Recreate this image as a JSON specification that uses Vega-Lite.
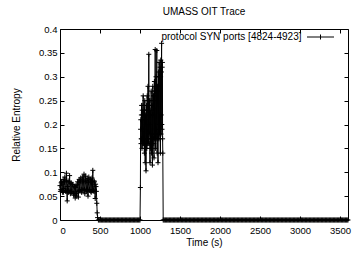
{
  "$schema": "https://vega.github.io/schema/vega-lite/v6.json",
  "width": 288,
  "height": 191,
  "autosize": {"type": "none"},
  "padding": {"left": 60, "top": 29, "right": 13, "bottom": 41},
  "background": "white",
  "title": {"text": "UMASS OIT Trace", "fontSize": 10, "fontWeight": "normal", "font": "Liberation Sans", "color": "black", "frame": "group", "anchor": "middle", "offset": 7},
  "config": {
    "font": "Liberation Sans",
    "view": {"stroke": "black", "strokeWidth": 1},
    "axis": {"domain": false, "grid": false, "ticks": true, "tickColor": "black", "tickSize": -4, "tickWidth": 1, "labelColor": "black", "labelFontSize": 9.5, "labelFont": "Liberation Sans", "titleColor": "black", "titleFont": "Liberation Sans", "titleFontSize": 10, "titleFontWeight": "normal"}
  },
  "data": {"values": [
    {"t":0,"v":0.072},{"t":5,"v":0.06},{"t":10,"v":0.064},{"t":15,"v":0.078},{"t":20,"v":0.08},{"t":25,"v":0.062},{"t":30,"v":0.058},{"t":35,"v":0.075},{"t":40,"v":0.085},{"t":45,"v":0.058},
    {"t":50,"v":0.066},{"t":55,"v":0.08},{"t":60,"v":0.09},{"t":65,"v":0.062},{"t":70,"v":0.06},{"t":75,"v":0.082},{"t":80,"v":0.098},{"t":85,"v":0.06},{"t":90,"v":0.04},{"t":95,"v":0.07},
    {"t":100,"v":0.082},{"t":105,"v":0.058},{"t":110,"v":0.062},{"t":115,"v":0.08},{"t":120,"v":0.093},{"t":125,"v":0.06},{"t":130,"v":0.055},{"t":135,"v":0.076},{"t":140,"v":0.078},{"t":145,"v":0.058},
    {"t":150,"v":0.06},{"t":155,"v":0.074},{"t":160,"v":0.075},{"t":165,"v":0.056},{"t":170,"v":0.052},{"t":175,"v":0.07},{"t":180,"v":0.07},{"t":185,"v":0.055},{"t":190,"v":0.046},{"t":195,"v":0.068},
    {"t":200,"v":0.072},{"t":205,"v":0.056},{"t":210,"v":0.05},{"t":215,"v":0.074},{"t":220,"v":0.08},{"t":225,"v":0.06},{"t":230,"v":0.048},{"t":235,"v":0.078},{"t":240,"v":0.085},{"t":245,"v":0.062},
    {"t":250,"v":0.06},{"t":255,"v":0.082},{"t":260,"v":0.088},{"t":265,"v":0.064},{"t":270,"v":0.058},{"t":275,"v":0.08},{"t":280,"v":0.09},{"t":285,"v":0.063},{"t":290,"v":0.062},{"t":295,"v":0.084},
    {"t":300,"v":0.096},{"t":305,"v":0.064},{"t":310,"v":0.055},{"t":315,"v":0.08},{"t":320,"v":0.092},{"t":325,"v":0.062},{"t":330,"v":0.06},{"t":335,"v":0.082},{"t":340,"v":0.087},{"t":345,"v":0.062},
    {"t":350,"v":0.05},{"t":355,"v":0.078},{"t":360,"v":0.09},{"t":365,"v":0.062},{"t":370,"v":0.064},{"t":375,"v":0.084},{"t":380,"v":0.085},{"t":385,"v":0.06},{"t":390,"v":0.058},{"t":395,"v":0.08},
    {"t":400,"v":0.088},{"t":405,"v":0.062},{"t":410,"v":0.104},{"t":415,"v":0.06},{"t":420,"v":0.062},{"t":425,"v":0.082},{"t":430,"v":0.08},{"t":435,"v":0.06},{"t":440,"v":0.045},{"t":445,"v":0.075},
    {"t":450,"v":0.07},{"t":455,"v":0.06},{"t":460,"v":0.035},{"t":465,"v":0.015},{"t":470,"v":0.005},{"t":480,"v":0},{"t":490,"v":0},
    {"t":500,"v":0},{"t":510,"v":0},{"t":520,"v":0},{"t":530,"v":0},{"t":540,"v":0},{"t":550,"v":0},{"t":560,"v":0},{"t":570,"v":0},{"t":580,"v":0},{"t":590,"v":0},
    {"t":600,"v":0},{"t":610,"v":0},{"t":620,"v":0},{"t":630,"v":0},{"t":640,"v":0},{"t":650,"v":0},{"t":660,"v":0},{"t":670,"v":0},{"t":680,"v":0},{"t":690,"v":0},
    {"t":700,"v":0},{"t":710,"v":0},{"t":720,"v":0},{"t":730,"v":0},{"t":740,"v":0},{"t":750,"v":0},{"t":760,"v":0},{"t":770,"v":0},{"t":780,"v":0},{"t":790,"v":0},
    {"t":800,"v":0},{"t":810,"v":0},{"t":820,"v":0},{"t":830,"v":0},{"t":840,"v":0},{"t":850,"v":0},{"t":860,"v":0},{"t":870,"v":0},{"t":880,"v":0},{"t":890,"v":0},
    {"t":900,"v":0},{"t":910,"v":0},{"t":920,"v":0},{"t":930,"v":0},{"t":940,"v":0},{"t":950,"v":0},{"t":960,"v":0},{"t":970,"v":0},{"t":980,"v":0},{"t":990,"v":0},
    {"t":1000,"v":0},{"t":1005,"v":0.068},{"t":1007.5,"v":0.19},{"t":1010,"v":0.21},{"t":1012.5,"v":0.16},{"t":1015,"v":0.17},{"t":1017.5,"v":0.22},{"t":1020,"v":0.24},{"t":1022.5,"v":0.17},{"t":1025,"v":0.15},
    {"t":1027.5,"v":0.23},{"t":1030,"v":0.22},{"t":1032.5,"v":0.16},{"t":1035,"v":0.19},{"t":1037.5,"v":0.24},{"t":1040,"v":0.26},{"t":1042.5,"v":0.17},{"t":1045,"v":0.16},{"t":1047.5,"v":0.22},{"t":1050,"v":0.23},
    {"t":1052.5,"v":0.16},{"t":1055,"v":0.14},{"t":1057.5,"v":0.23},{"t":1060,"v":0.25},{"t":1062.5,"v":0.16},{"t":1065,"v":0.12},{"t":1067.5,"v":0.22},{"t":1070,"v":0.21},{"t":1072.5,"v":0.15},{"t":1075,"v":0.103},
    {"t":1077.5,"v":0.2},{"t":1080,"v":0.24},{"t":1082.5,"v":0.16},{"t":1085,"v":0.15},{"t":1087.5,"v":0.23},{"t":1090,"v":0.26},{"t":1092.5,"v":0.16},{"t":1095,"v":0.17},{"t":1097.5,"v":0.24},{"t":1100,"v":0.28},
    {"t":1102.5,"v":0.17},{"t":1105,"v":0.16},{"t":1107.5,"v":0.25},{"t":1110,"v":0.347},{"t":1112.5,"v":0.2},{"t":1115,"v":0.18},{"t":1117.5,"v":0.24},{"t":1120,"v":0.25},{"t":1122.5,"v":0.16},{"t":1125,"v":0.12},
    {"t":1127.5,"v":0.23},{"t":1130,"v":0.22},{"t":1132.5,"v":0.15},{"t":1135,"v":0.16},{"t":1137.5,"v":0.25},{"t":1140,"v":0.27},{"t":1142.5,"v":0.17},{"t":1145,"v":0.14},{"t":1147.5,"v":0.24},{"t":1150,"v":0.24},
    {"t":1152.5,"v":0.16},{"t":1155,"v":0.115},{"t":1157.5,"v":0.22},{"t":1160,"v":0.28},{"t":1162.5,"v":0.17},{"t":1165,"v":0.17},{"t":1167.5,"v":0.26},{"t":1170,"v":0.26},{"t":1172.5,"v":0.16},{"t":1175,"v":0.13},
    {"t":1177.5,"v":0.25},{"t":1180,"v":0.29},{"t":1182.5,"v":0.17},{"t":1185,"v":0.18},{"t":1187.5,"v":0.27},{"t":1190,"v":0.357},{"t":1192.5,"v":0.18},{"t":1195,"v":0.15},{"t":1197.5,"v":0.27},{"t":1200,"v":0.3},
    {"t":1202.5,"v":0.17},{"t":1205,"v":0.19},{"t":1207.5,"v":0.28},{"t":1210,"v":0.355},{"t":1212.5,"v":0.18},{"t":1215,"v":0.14},{"t":1217.5,"v":0.27},{"t":1220,"v":0.28},{"t":1222.5,"v":0.17},{"t":1225,"v":0.12},
    {"t":1227.5,"v":0.28},{"t":1230,"v":0.31},{"t":1232.5,"v":0.18},{"t":1235,"v":0.17},{"t":1237.5,"v":0.3},{"t":1240,"v":0.33},{"t":1242.5,"v":0.18},{"t":1245,"v":0.2},{"t":1247.5,"v":0.3},{"t":1250,"v":0.32},
    {"t":1252.5,"v":0.17},{"t":1255,"v":0.14},{"t":1257.5,"v":0.3},{"t":1260,"v":0.335},{"t":1262.5,"v":0.18},{"t":1265,"v":0.22},{"t":1267.5,"v":0.31},{"t":1270,"v":0.37},{"t":1272.5,"v":0.2},{"t":1275,"v":0.19},
    {"t":1277.5,"v":0.32},{"t":1280,"v":0.33},{"t":1282.5,"v":0.17},{"t":1285,"v":0.14},{"t":1290,"v":0},
    {"t":1300,"v":0},{"t":1310,"v":0},{"t":1320,"v":0},{"t":1330,"v":0},{"t":1340,"v":0},{"t":1350,"v":0},{"t":1360,"v":0},{"t":1370,"v":0},{"t":1380,"v":0},{"t":1390,"v":0},
    {"t":1400,"v":0},{"t":1410,"v":0},{"t":1420,"v":0},{"t":1430,"v":0},{"t":1440,"v":0},{"t":1450,"v":0},{"t":1460,"v":0},{"t":1470,"v":0},{"t":1480,"v":0},{"t":1490,"v":0},
    {"t":1500,"v":0},{"t":1510,"v":0},{"t":1520,"v":0},{"t":1530,"v":0},{"t":1540,"v":0},{"t":1550,"v":0},{"t":1560,"v":0},{"t":1570,"v":0},{"t":1580,"v":0},{"t":1590,"v":0},
    {"t":1600,"v":0},{"t":1610,"v":0},{"t":1620,"v":0},{"t":1630,"v":0},{"t":1640,"v":0},{"t":1650,"v":0},{"t":1660,"v":0},{"t":1670,"v":0},{"t":1680,"v":0},{"t":1690,"v":0},
    {"t":1700,"v":0},{"t":1710,"v":0},{"t":1720,"v":0},{"t":1730,"v":0},{"t":1740,"v":0},{"t":1750,"v":0},{"t":1760,"v":0},{"t":1770,"v":0},{"t":1780,"v":0},{"t":1790,"v":0},
    {"t":1800,"v":0},{"t":1810,"v":0},{"t":1820,"v":0},{"t":1830,"v":0},{"t":1840,"v":0},{"t":1850,"v":0},{"t":1860,"v":0},{"t":1870,"v":0},{"t":1880,"v":0},{"t":1890,"v":0},
    {"t":1900,"v":0},{"t":1910,"v":0},{"t":1920,"v":0},{"t":1930,"v":0},{"t":1940,"v":0},{"t":1950,"v":0},{"t":1960,"v":0},{"t":1970,"v":0},{"t":1980,"v":0},{"t":1990,"v":0},
    {"t":2000,"v":0},{"t":2010,"v":0},{"t":2020,"v":0},{"t":2030,"v":0},{"t":2040,"v":0},{"t":2050,"v":0},{"t":2060,"v":0},{"t":2070,"v":0},{"t":2080,"v":0},{"t":2090,"v":0},
    {"t":2100,"v":0},{"t":2110,"v":0},{"t":2120,"v":0},{"t":2130,"v":0},{"t":2140,"v":0},{"t":2150,"v":0},{"t":2160,"v":0},{"t":2170,"v":0},{"t":2180,"v":0},{"t":2190,"v":0},
    {"t":2200,"v":0},{"t":2210,"v":0},{"t":2220,"v":0},{"t":2230,"v":0},{"t":2240,"v":0},{"t":2250,"v":0},{"t":2260,"v":0},{"t":2270,"v":0},{"t":2280,"v":0},{"t":2290,"v":0},
    {"t":2300,"v":0},{"t":2310,"v":0},{"t":2320,"v":0},{"t":2330,"v":0},{"t":2340,"v":0},{"t":2350,"v":0},{"t":2360,"v":0},{"t":2370,"v":0},{"t":2380,"v":0},{"t":2390,"v":0},
    {"t":2400,"v":0},{"t":2410,"v":0},{"t":2420,"v":0},{"t":2430,"v":0},{"t":2440,"v":0},{"t":2450,"v":0},{"t":2460,"v":0},{"t":2470,"v":0},{"t":2480,"v":0},{"t":2490,"v":0},
    {"t":2500,"v":0},{"t":2510,"v":0},{"t":2520,"v":0},{"t":2530,"v":0},{"t":2540,"v":0},{"t":2550,"v":0},{"t":2560,"v":0},{"t":2570,"v":0},{"t":2580,"v":0},{"t":2590,"v":0},
    {"t":2600,"v":0},{"t":2610,"v":0},{"t":2620,"v":0},{"t":2630,"v":0},{"t":2640,"v":0},{"t":2650,"v":0},{"t":2660,"v":0},{"t":2670,"v":0},{"t":2680,"v":0},{"t":2690,"v":0},
    {"t":2700,"v":0},{"t":2710,"v":0},{"t":2720,"v":0},{"t":2730,"v":0},{"t":2740,"v":0},{"t":2750,"v":0},{"t":2760,"v":0},{"t":2770,"v":0},{"t":2780,"v":0},{"t":2790,"v":0},
    {"t":2800,"v":0},{"t":2810,"v":0},{"t":2820,"v":0},{"t":2830,"v":0},{"t":2840,"v":0},{"t":2850,"v":0},{"t":2860,"v":0},{"t":2870,"v":0},{"t":2880,"v":0},{"t":2890,"v":0},
    {"t":2900,"v":0},{"t":2910,"v":0},{"t":2920,"v":0},{"t":2930,"v":0},{"t":2940,"v":0},{"t":2950,"v":0},{"t":2960,"v":0},{"t":2970,"v":0},{"t":2980,"v":0},{"t":2990,"v":0},
    {"t":3000,"v":0},{"t":3010,"v":0},{"t":3020,"v":0},{"t":3030,"v":0},{"t":3040,"v":0},{"t":3050,"v":0},{"t":3060,"v":0},{"t":3070,"v":0},{"t":3080,"v":0},{"t":3090,"v":0},
    {"t":3100,"v":0},{"t":3110,"v":0},{"t":3120,"v":0},{"t":3130,"v":0},{"t":3140,"v":0},{"t":3150,"v":0},{"t":3160,"v":0},{"t":3170,"v":0},{"t":3180,"v":0},{"t":3190,"v":0},
    {"t":3200,"v":0},{"t":3210,"v":0},{"t":3220,"v":0},{"t":3230,"v":0},{"t":3240,"v":0},{"t":3250,"v":0},{"t":3260,"v":0},{"t":3270,"v":0},{"t":3280,"v":0},{"t":3290,"v":0},
    {"t":3300,"v":0},{"t":3310,"v":0},{"t":3320,"v":0},{"t":3330,"v":0},{"t":3340,"v":0},{"t":3350,"v":0},{"t":3360,"v":0},{"t":3370,"v":0},{"t":3380,"v":0},{"t":3390,"v":0},
    {"t":3400,"v":0},{"t":3410,"v":0},{"t":3420,"v":0},{"t":3430,"v":0},{"t":3440,"v":0},{"t":3450,"v":0},{"t":3460,"v":0},{"t":3470,"v":0},{"t":3480,"v":0},{"t":3490,"v":0},
    {"t":3500,"v":0},{"t":3510,"v":0},{"t":3520,"v":0},{"t":3530,"v":0},{"t":3540,"v":0},{"t":3550,"v":0},{"t":3560,"v":0},{"t":3570,"v":0},{"t":3580,"v":0},{"t":3590,"v":0},
    {"t":3600,"v":0}
  ]},
  "layer": [
    {
      "mark": {"type": "line", "color": "black", "strokeWidth": 1, "clip": false},
      "encoding": {
        "x": {"field": "t", "type": "quantitative", "scale": {"domain": [0, 3600], "nice": false, "zero": false},
              "axis": {"orient": "bottom", "values": [0,500,1000,1500,2000,2500,3000,3500], "format": "d", "title": "Time (s)", "labelPadding": 9, "titlePadding": 3}},
        "y": {"field": "v", "type": "quantitative", "scale": {"domain": [0, 0.4], "nice": false},
              "axis": {"orient": "left", "values": [0,0.05,0.1,0.15,0.2,0.25,0.3,0.35,0.4], "format": ".2~f", "title": "Relative Entropy", "labelPadding": 7, "titlePadding": 17}}
      }
    },
    {
      "mark": {"type": "point", "shape": "M-1,0L1,0M0,-1L0,1", "size": 25, "filled": false, "strokeWidth": 1, "opacity": 1, "clip": false},
      "encoding": {
        "x": {"field": "t", "type": "quantitative", "axis": {"orient": "top", "values": [0,500,1000,1500,2000,2500,3000,3500], "labels": false, "title": null}},
        "y": {"field": "v", "type": "quantitative", "axis": {"orient": "right", "values": [0,0.05,0.1,0.15,0.2,0.25,0.3,0.35,0.4], "labels": false, "title": null}},
        "color": {"datum": "protocol SYN ports [4824-4923]", "type": "nominal", "scale": {"range": ["black"]},
                  "legend": {"title": null, "orient": "none", "legendX": 255.5, "legendY": 3, "padding": 0,
                             "symbolType": "M-5.4,0L5.4,0M0,-1L0,1", "symbolSize": 25, "symbolStrokeColor": "black", "symbolFillColor": "transparent", "symbolStrokeWidth": 1,
                             "labelAlign": "right", "labelOffset": -24, "labelFontSize": 10, "labelFont": "Liberation Sans", "labelColor": "black", "labelLimit": 300}}
      }
    }
  ]
}
